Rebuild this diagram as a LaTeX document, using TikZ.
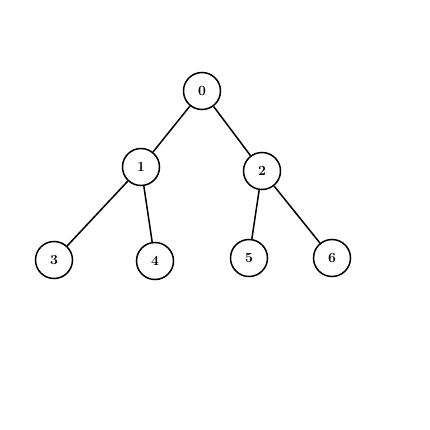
\documentclass[tikz,border=0pt]{standalone}
\begin{document}
\begin{tikzpicture}[x=1pt,y=-1pt,
  vtx/.style={circle,draw,line width=1.5pt,minimum size=37pt,inner sep=0pt,font=\fontsize{14}{16}\selectfont\bfseries},
  edge/.style={line width=1.5pt}]
\useasboundingbox (0,0) rectangle (430,430);
\node[vtx] (n0) at (202,91) {0};
\node[vtx] (n1) at (141,167) {1};
\node[vtx] (n2) at (262,171) {2};
\node[vtx] (n3) at (54,260) {3};
\node[vtx] (n4) at (155,261) {4};
\node[vtx] (n5) at (249,258) {5};
\node[vtx] (n6) at (332,258) {6};
\draw[edge] (n0) -- (n1);
\draw[edge] (n0) -- (n2);
\draw[edge] (n1) -- (n3);
\draw[edge] (n1) -- (n4);
\draw[edge] (n2) -- (n5);
\draw[edge] (n2) -- (n6);
\end{tikzpicture}
\end{document}
